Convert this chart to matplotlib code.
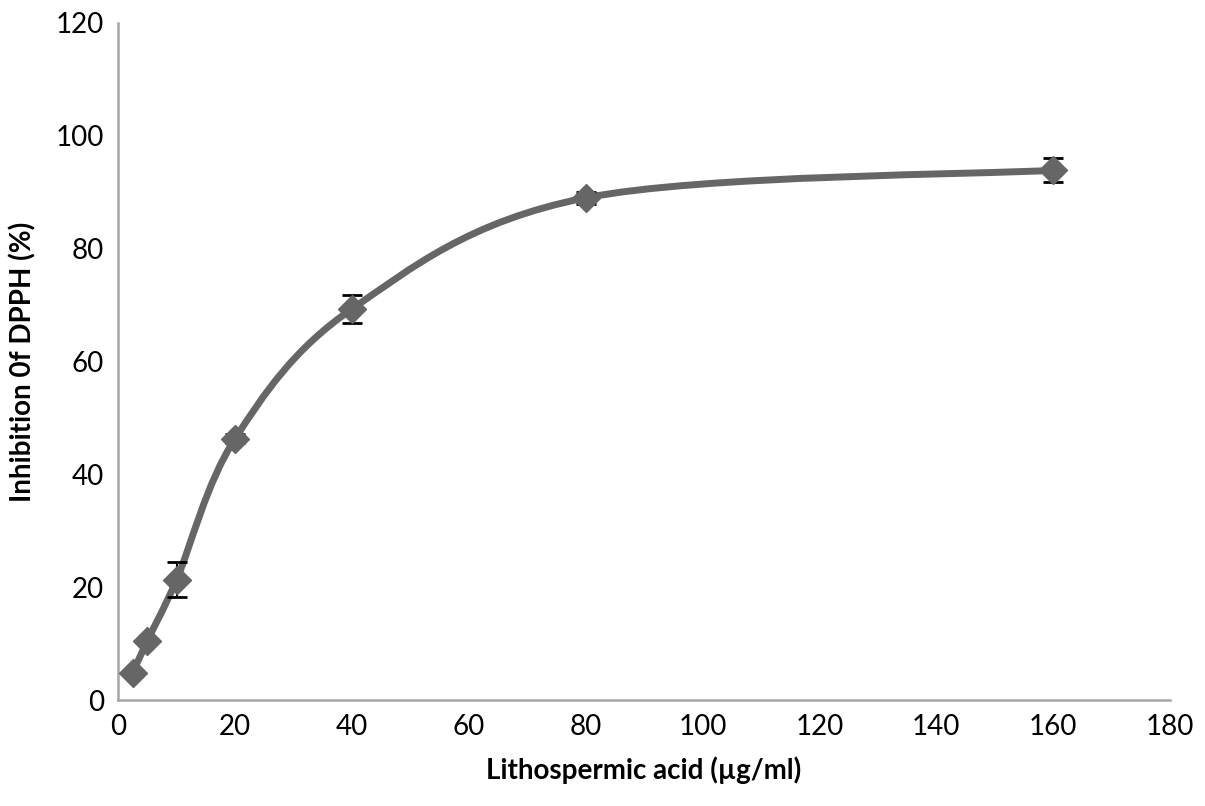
#!/usr/bin/env python3
"""
DPPH inhibition vs lithospermic acid concentration (smoothed line, Excel style).
"""
import numpy as np
import matplotlib.pyplot as plt
from matplotlib.path import Path
from matplotlib.patches import PathPatch

conc = [2.5, 5, 10, 20, 40, 80, 160]
inhibition = [4.8, 10.5, 21.3, 46.3, 69.3, 89.0, 93.9]
errors = [0.4, 0.5, 3.1, 0.8, 2.5, 1.0, 2.1]

xticks = [0, 20, 40, 60, 80, 100, 120, 140, 160, 180]
yticks = [0, 20, 40, 60, 80, 100, 120]

LINE = '#666666'
AXIS = '#a6a6a6'


def smooth_path(x, y):
    # Bezier path through the points (Catmull-Rom style, like a spreadsheet's smoothed line)
    pts = np.column_stack([x, y]).astype(float)
    n = len(pts)
    verts = [pts[0]]
    codes = [Path.MOVETO]
    for i in range(n - 1):
        p0 = pts[i - 1] if i > 0 else pts[i]
        p1 = pts[i]
        p2 = pts[i + 1]
        p3 = pts[i + 2] if i + 2 < n else pts[i + 1]
        c1 = p1 + (p2 - p0) / 6.0
        c2 = p2 - (p3 - p1) / 6.0
        verts += [c1, c2, p2]
        codes += [Path.CURVE4] * 3
    return Path(verts, codes)


plt.rcParams['font.family'] = ['Lato', 'DejaVu Sans']

fig = plt.figure(figsize=(12.05, 8.06), dpi=100)
ax = fig.add_axes([0.098, 0.1315, 0.873, 0.84])

ax.add_patch(PathPatch(smooth_path(conc, inhibition), facecolor='none',
                       edgecolor=LINE, lw=5, zorder=2, capstyle='round'))
ax.errorbar(conc, inhibition, yerr=errors, fmt='none', ecolor='black',
            elinewidth=1.5, capsize=7, capthick=2, zorder=3)
ax.plot(conc, inhibition, linestyle='none', marker='D', markersize=14,
        color=LINE, zorder=4)

ax.set_xlim(0, 180)
ax.set_ylim(0, 120)
ax.set_xticks(xticks)
ax.set_yticks(yticks)
ax.tick_params(length=0, labelsize=20, pad=10)

for side in ['top', 'right']:
    ax.spines[side].set_visible(False)
for side in ['left', 'bottom']:
    ax.spines[side].set_color(AXIS)
    ax.spines[side].set_linewidth(1.8)

ax.set_xlabel('Lithospermic acid (µg/ml)', fontsize=20, fontweight='bold', labelpad=12)
ax.set_ylabel('Inhibition 0f DPPH (%)', fontsize=20, fontweight='bold', labelpad=14)

fig.savefig('out.png', dpi=100)
